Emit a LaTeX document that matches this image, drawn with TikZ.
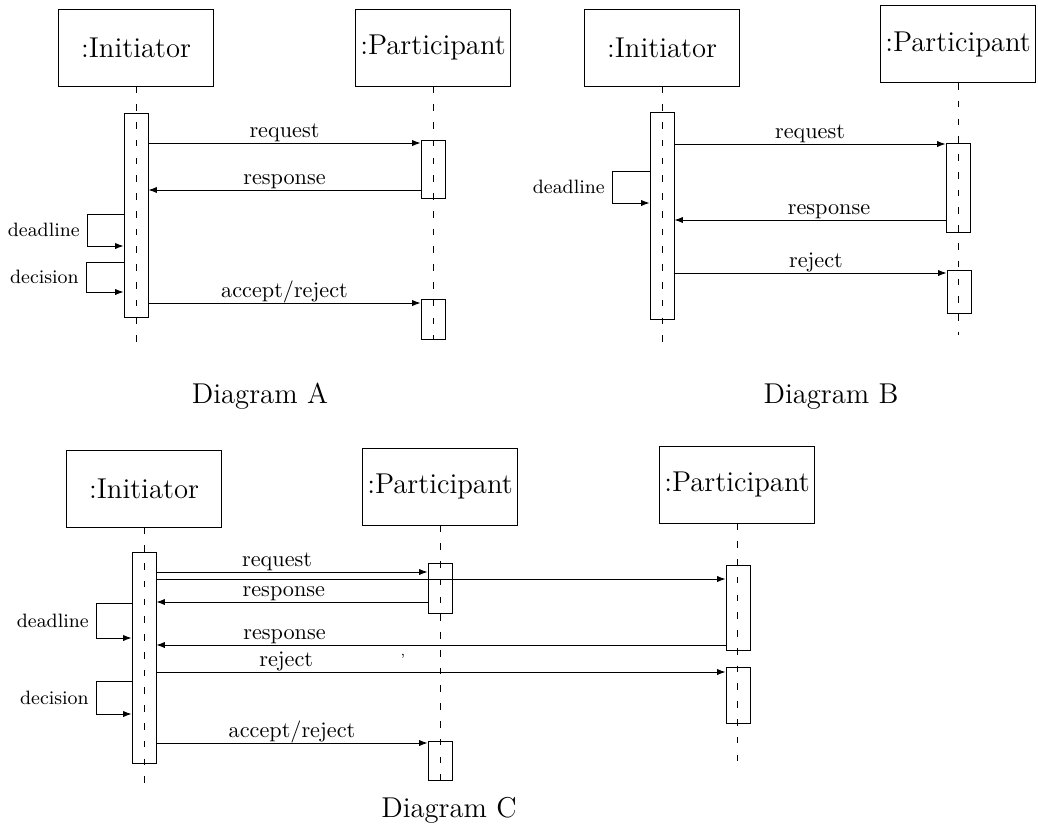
\documentclass[tikz,border=0pt]{standalone}
\usepackage{fontspec}
\usetikzlibrary{arrows.meta}
\tikzset{>={Latex[length=3.8pt,width=2.8pt]}}
\tikzset{
role/.style={draw, minimum width=69.75pt, minimum height=34.65pt, inner sep=0pt, font=\fontsize{12.9}{15}\selectfont},
bar/.style={draw, minimum width=10.8pt, minimum height=#1*0.45pt, inner sep=0pt},
life/.style={dash pattern=on 3pt off 5pt},
msg/.style={->},
lbl/.style={anchor=base, yshift=2.5pt, inner sep=0pt, font=\fontsize{10}{12}\selectfont},
note/.style={left, font=\fontsize{8.7}{10}\selectfont},
dcap/.style={anchor=base, font=\fontsize{12.9}{15}\selectfont}
}
\begin{document}
\begin{tikzpicture}[x=0.45pt, y=-0.45pt]
\useasboundingbox (0,0) rectangle (1038,826);
% Diagram A
\node[role] (iA) at (136,47.5) {:Initiator};
\node[role] (pA) at (433,47.5) {:Participant};
\draw[life] (iA.south) -- ++(0,261);
\draw[life] (pA.south) -- ++(0,253);
\node[bar=204] (iAa) at (136,215) {};
\node[bar=58] (pAa) at (433,169) {};
\node[bar=40] (pAb) at (433,319) {};
\draw[msg] (iAa.east |- 0,143) -- (pAa.west |- 0,143) node[lbl, midway] {request};
\draw[msg] (pAa.west |- 0,190) -- (iAa.east |- 0,190) node[lbl, midway] {response};
\draw[msg] (iAa.west |- 0,214) -- ++(-36,0) -- ++(0,32) node[note, midway] {deadline} -- (iAa.west |- 0,246);
\draw[msg] (iAa.west |- 0,262) -- ++(-37,0) -- ++(0,30) node[note, midway] {decision} -- (iAa.west |- 0,292);
\draw[msg] (iAa.east |- 0,303) -- (pAb.west |- 0,303) node[lbl, midway] {accept/reject};
\node[dcap] (capA) at (260,403) {Diagram A};
% Diagram B
\node[role] (iB) at (662,47.5) {:Initiator};
\node[role] (pB) at (958,44) {:Participant};
\draw[life] (iB.south) -- ++(0,261);
\draw[life] (pB.south) -- ++(0,252.5);
\node[bar=207] (iBa) at (662,215.5) {};
\node[bar=89] (pBa) at (958,187.5) {};
\node[bar=43] (pBb) at (959,291.5) {};
\draw[msg] (iBa.east |- 0,144) -- (pBa.west |- 0,144) node[lbl, midway] {request};
\draw[msg] (iBa.west |- 0,171) -- ++(-37,0) -- ++(0,32) node[note, midway] {deadline} -- (iBa.west |- 0,203);
\draw[msg] (pBa.west |- 0,220) -- (iBa.east |- 0,220) node[lbl, pos=0.43] {response};
\draw[msg] (iBa.east |- 0,273) -- (pBb.west |- 0,273) node[lbl, pos=0.52] {reject};
\node[dcap] (capB) at (831,403) {Diagram B};
% Diagram C
\node[role] (iC) at (144,488.5) {:Initiator};
\node[role] (pC) at (440,486.5) {:Participant};
\node[role] (qC) at (737,484.5) {:Participant};
\draw[life] (iC.south) -- ++(0,261);
\draw[life] (pC.south) -- ++(0,255);
\draw[life] (qC.south) -- ++(0,247);
\node[bar=211] (iCa) at (144,657.5) {};
\node[bar=50] (pCa) at (440,588) {};
\node[bar=39] (pCb) at (440,760.5) {};
\node[bar=85] (qCa) at (738,607.5) {};
\node[bar=56] (qCb) at (738,695) {};
\draw[msg] (iCa.east |- 0,572) -- (pCa.west |- 0,572) node[lbl, pos=0.445] {request};
\draw[msg] (iCa.east |- 0,579) -- (qCa.west |- 0,579);
\draw[msg] (pCa.west |- 0,602) -- (iCa.east |- 0,602) node[lbl, pos=0.53] {response};
\draw[msg] (iCa.west |- 0,603) -- ++(-35,0) -- ++(0,35) node[note, midway] {deadline} -- (iCa.west |- 0,638);
\draw[msg] (qCa.west |- 0,645) -- (iCa.east |- 0,645) node[lbl, pos=0.775] {response};
\node[font=\fontsize{6}{7}\selectfont, inner sep=0pt] (tick) at (403,659) {'};
\draw[msg] (iCa.east |- 0,672) -- (qCb.west |- 0,672) node[lbl, pos=0.228] {reject};
\draw[msg] (iCa.west |- 0,681) -- ++(-35,0) -- ++(0,33) node[note, midway] {decision} -- (iCa.west |- 0,714);
\draw[msg] (iCa.east |- 0,743) -- (pCb.west |- 0,743) node[lbl, midway] {accept/reject};
\node[dcap] (capC) at (449,817) {Diagram C};
\end{tikzpicture}
\end{document}
